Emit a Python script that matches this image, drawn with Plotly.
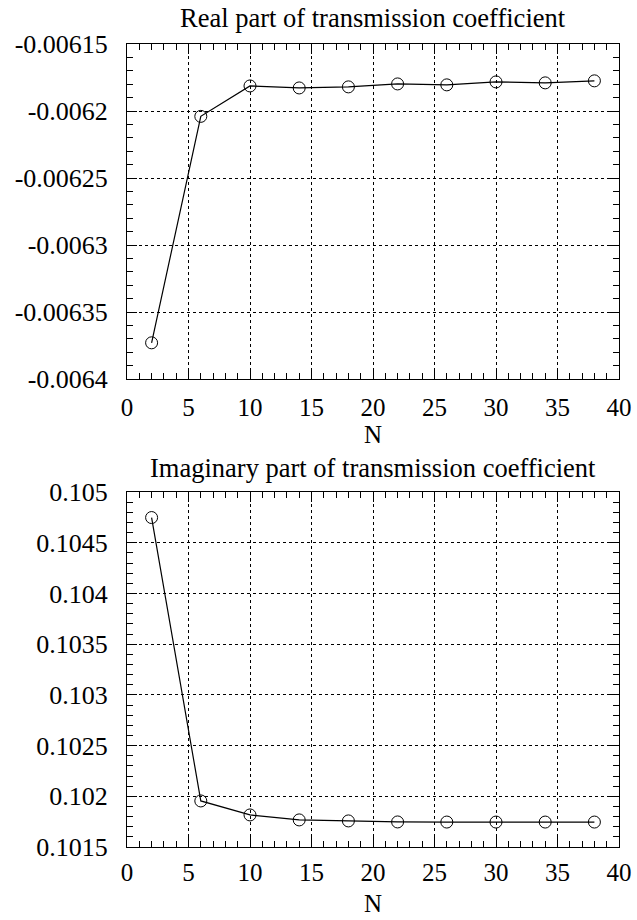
import plotly.graph_objects as go

N = [2, 6, 10, 14, 18, 22, 26, 30, 34, 38]
real_part = [-0.006373, -0.006204, -0.0061813, -0.0061828, -0.006182,
             -0.0061798, -0.0061805, -0.0061783, -0.006179, -0.0061775]
imag_part = [0.104748, 0.101954, 0.101816, 0.101767, 0.101757,
             0.101747, 0.101746, 0.101746, 0.101746, 0.101746]

x_ticks = [0, 5, 10, 15, 20, 25, 30, 35, 40]
real_ticks = [-0.00615, -0.0062, -0.00625, -0.0063, -0.00635, -0.0064]
real_ticktext = ["-0.00615", "-0.0062", "-0.00625", "-0.0063", "-0.00635", "-0.0064"]
imag_ticks = [0.105, 0.1045, 0.104, 0.1035, 0.103, 0.1025, 0.102, 0.1015]
imag_ticktext = ["0.105", "0.1045", "0.104", "0.1035", "0.103", "0.1025", "0.102", "0.1015"]

titles = ["Real part of transmission coefficient",
          "Imaginary part of transmission coefficient"]

FONT = "Liberation Serif, Times New Roman, DejaVu Serif, serif"
W, H = 637, 920

fig = go.Figure()

line = dict(color="black", width=1.2)
marker = dict(symbol="circle-open", size=12, color="black", line=dict(width=1, color="black"))

fig.add_trace(go.Scatter(x=N, y=real_part, mode="lines+markers", line=line,
                         marker=marker, xaxis="x", yaxis="y", showlegend=False))
fig.add_trace(go.Scatter(x=N, y=imag_part, mode="lines+markers", line=line,
                         marker=marker, xaxis="x2", yaxis="y2", showlegend=False))

ml, mr = 127, 18
def ydom(top_px, bot_px):
    return [1 - bot_px / H, 1 - top_px / H]

common_x = dict(range=[0, 40], tickvals=x_ticks, ticks="inside", ticklen=10,
                tickcolor="black", tickwidth=1, showline=True, linecolor="black",
                linewidth=1, mirror="ticks", showgrid=True, gridcolor="black",
                griddash="dot", gridwidth=1, zeroline=False, automargin=False,
                minor=dict(dtick=1, ticks="inside", ticklen=6, tickcolor="black",
                           showgrid=False),
                tickfont=dict(family=FONT, size=25, color="black"))
common_y = dict(ticks="inside", ticklen=10, tickcolor="black", tickwidth=1,
                showline=True, linecolor="black", linewidth=1, mirror="ticks",
                showgrid=True, gridcolor="black", griddash="dot", gridwidth=1,
                zeroline=False, automargin=False,
                tickfont=dict(family=FONT, size=26, color="black"),
                ticklabelstandoff=13)

fig.update_layout(
    width=W, height=H,
    margin=dict(l=ml, r=mr, t=0, b=0, autoexpand=False),
    paper_bgcolor="white", plot_bgcolor="white",
    xaxis=dict(common_x, domain=[0, 1], anchor="y", ticklabelstandoff=6,
               title=dict(text="N", font=dict(family=FONT, size=25, color="black"),
                          standoff=0)),
    yaxis=dict(common_y, domain=ydom(44, 379), anchor="x",
               range=[-0.0064, -0.00615], tickvals=real_ticks, ticktext=real_ticktext,
               minor=dict(dtick=0.00001, tick0=-0.0064, ticks="inside", ticklen=6,
                          tickcolor="black", showgrid=False)),
    xaxis2=dict(common_x, domain=[0, 1], anchor="y2", ticklabelstandoff=3,
                title=dict(text="N", font=dict(family=FONT, size=25, color="black"),
                           standoff=9)),
    yaxis2=dict(common_y, domain=ydom(492, 847), anchor="x2",
                range=[0.1015, 0.105], tickvals=imag_ticks, ticktext=imag_ticktext,
                minor=dict(dtick=0.0001, tick0=0.1015, ticks="inside", ticklen=6,
                           tickcolor="black", showgrid=False)),
    annotations=[
        dict(text=titles[0], x=0.5, y=1 - 18 / H, xref="paper", yref="paper",
             showarrow=False, font=dict(family=FONT, size=26.5, color="black"),
             xanchor="center", yanchor="middle"),
        dict(text=titles[1], x=0.5, y=1 - 468 / H, xref="paper", yref="paper",
             showarrow=False, font=dict(family=FONT, size=26.5, color="black"),
             xanchor="center", yanchor="middle"),
    ],
)

fig.write_html("out.html")
